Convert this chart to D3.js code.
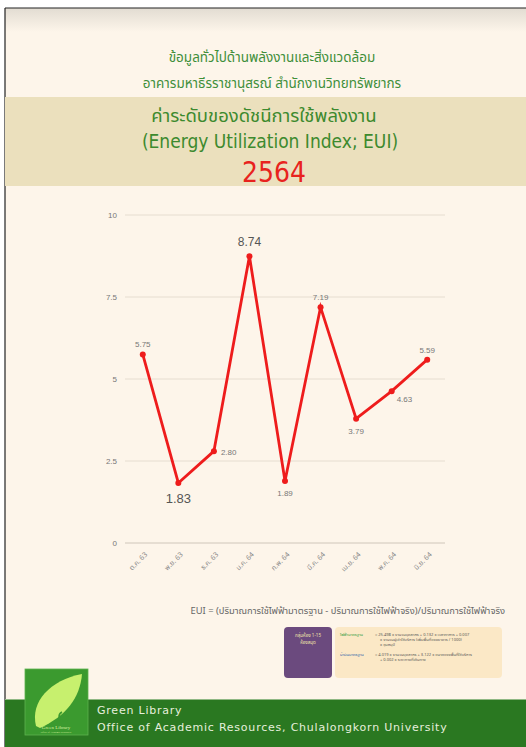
<!DOCTYPE html>
<html><head><meta charset="utf-8">
<script src="https://cdn.jsdelivr.net/npm/d3@7"></script>
<style>html,body{margin:0;padding:0;background:#fff;}svg{display:block;}</style>
</head><body>
<script>
const months = ["ต.ค. 63","พ.ย. 63","ธ.ค. 63","ม.ค. 64","ก.พ. 64","มี.ค. 64","เม.ย. 64","พ.ค. 64","มิ.ย. 64"];
const eui = [5.75, 1.83, 2.80, 8.74, 1.89, 7.19, 3.79, 4.63, 5.59];
const valueLabels = ["5.75","1.83","2.80","8.74","1.89","7.19","3.79","4.63","5.59"];
const yTicks = [0, 2.5, 5, 7.5, 10];
const yTickLabels = ["0","2.5","5","7.5","10"];
const labelPos = ["above","below","right","above","below","above","below","belowright","above"];
const labelBig = [false,true,false,true,false,false,false,false,false];

const W = 526, H = 747;
const svg = d3.select("body").append("svg").attr("width", W).attr("height", H);
const defs = svg.append("defs");
const g1 = defs.append("linearGradient").attr("id","topg").attr("x1",0).attr("y1",0).attr("x2",0).attr("y2",1);
g1.append("stop").attr("offset","0%").attr("stop-color","#e2dcd2");
g1.append("stop").attr("offset","100%").attr("stop-color","#fdf5ea");

// page
svg.append("rect").attr("x",5).attr("y",8).attr("width",W-5).attr("height",H-8).attr("fill","#fdf5ea");
svg.append("rect").attr("x",5).attr("y",8).attr("width",W-5).attr("height",24).attr("fill","url(#topg)");
svg.append("line").attr("x1",5).attr("x2",5).attr("y1",8).attr("y2",H).attr("stroke","#222").attr("stroke-width",1.2);
svg.append("line").attr("x1",5).attr("x2",W).attr("y1",8).attr("y2",8).attr("stroke","#222").attr("stroke-width",1.2);

const thaiFont = "'Noto Sans Thai','Noto Sans','DejaVu Sans',sans-serif";
svg.append("text").attr("x",272).attr("y",62).attr("text-anchor","middle")
  .attr("font-family",thaiFont).attr("font-size",13.5).attr("fill","#3f8f3a")
  .text("ข้อมูลทั่วไปด้านพลังงานและสิ่งแวดล้อม");
svg.append("text").attr("x",272).attr("y",88).attr("text-anchor","middle")
  .attr("font-family",thaiFont).attr("font-size",13.5).attr("fill","#3f8f3a")
  .text("อาคารมหาธีรราชานุสรณ์ สำนักงานวิทยทรัพยากร");
svg.append("rect").attr("x",5).attr("y",97).attr("width",W-5).attr("height",89).attr("fill","#ebe0bd");
svg.append("text").attr("x",264).attr("y",122).attr("text-anchor","middle")
  .attr("font-family",thaiFont).attr("font-size",18.5).attr("fill","#3d8a2e")
  .text("ค่าระดับของดัชนีการใช้พลังงาน");
svg.append("text").attr("x",270).attr("y",148).attr("text-anchor","middle")
  .attr("font-family","'Liberation Sans Narrow','DejaVu Sans Condensed',sans-serif").attr("font-size",19).attr("fill","#3d8a2e")
  .text("(Energy Utilization Index; EUI)");
svg.append("text").attr("x",274).attr("y",182).attr("text-anchor","middle")
  .attr("font-family","'Liberation Sans Narrow','DejaVu Sans Condensed',sans-serif").attr("font-size",29)
  .attr("fill","#e8231e").attr("textLength",64).attr("lengthAdjust","spacingAndGlyphs")
  .text("2564");

// chart
const x = d3.scaleBand().domain(months).range([125, 445]);
const y = d3.scaleLinear().domain([0, 10]).range([543, 215]);

const yAxis = d3.axisLeft(y).tickValues(yTicks).tickFormat((d,i)=>yTickLabels[i]).tickSize(0).tickPadding(8);
const ya = svg.append("g").attr("transform","translate(125,0)").call(yAxis);
ya.select(".domain").remove();
ya.selectAll("text").attr("font-family","'Liberation Sans',Arial,sans-serif").attr("font-size",8).attr("fill","#777");
svg.append("g").selectAll("line").data(yTicks).join("line")
  .attr("x1",125).attr("x2",445).attr("y1",d=>y(d)).attr("y2",d=>y(d))
  .attr("stroke",d=>d===0?"#cfc6ba":"#e6ddd0").attr("stroke-width",1);

const xAxis = d3.axisBottom(x).tickSize(0).tickPadding(0);
const xa = svg.append("g").attr("transform","translate(0,543)").call(xAxis);
xa.select(".domain").remove();
xa.selectAll("text")
  .attr("font-family",thaiFont).attr("font-size",7).attr("fill","#888")
  .attr("text-anchor","end").attr("dy",0)
  .attr("transform","translate(5,12) rotate(-45)");

const cxp = (d,i)=> x(months[i]) + x.bandwidth()/2;
const line = d3.line().x((d,i)=>cxp(d,i)).y(d=>y(d));
svg.append("path").datum(eui).attr("d",line).attr("fill","none")
  .attr("stroke","#ee1c1c").attr("stroke-width",2.8).attr("stroke-linejoin","miter");
svg.append("g").selectAll("circle").data(eui).join("circle")
  .attr("cx",cxp).attr("cy",d=>y(d)).attr("r",3).attr("fill","#ee1c1c");

svg.append("g").selectAll("text").data(eui).join("text")
  .attr("font-family","'Liberation Sans',Arial,sans-serif")
  .attr("font-size",(d,i)=>labelBig[i]?(i===1?13:12):8)
  .attr("fill",(d,i)=>labelBig[i]?"#555":"#777")
  .attr("text-anchor",(d,i)=>labelPos[i]==="right"||labelPos[i]==="belowright"?"start":"middle")
  .attr("x",(d,i)=>{const p=labelPos[i]; return cxp(d,i)+(p==="right"?7:p==="belowright"?5:0);})
  .attr("y",(d,i)=>{const p=labelPos[i]; const yy=y(d);
     if(p==="above") return yy-(labelBig[i]?10:7);
     if(p==="below") return yy+(labelBig[i]?20:15);
     if(p==="right") return yy+4;
     return yy+11;})
  .text((d,i)=>valueLabels[i]);

// formula
svg.append("text").attr("x",505).attr("y",614).attr("text-anchor","end")
  .attr("font-family",thaiFont).attr("font-size",9.4).attr("fill","#666")
  .text("EUI = (ปริมาณการใช้ไฟฟ้ามาตรฐาน - ปริมาณการใช้ไฟฟ้าจริง)/ปริมาณการใช้ไฟฟ้าจริง");

svg.append("rect").attr("x",284).attr("y",627).attr("width",48).attr("height",51).attr("rx",4).attr("fill","#6b4a7e");
svg.append("text").attr("x",308).attr("y",637).attr("text-anchor","middle").attr("font-family",thaiFont).attr("font-size",4.5).attr("fill","#f3e6a8").text("กลุ่มห้อง 1-15");
svg.append("text").attr("x",308).attr("y",644).attr("text-anchor","middle").attr("font-family",thaiFont).attr("font-size",4.5).attr("fill","#f3e6a8").text("ห้องสมุด");
svg.append("rect").attr("x",335).attr("y",627).attr("width",167).attr("height",51).attr("rx",4).attr("fill","#fbe8c6");
const small = [
  {t:"ไฟฟ้ามาตรฐาน", c:"#2e9a3a", x:340, y:636},
  {t:"= 25.498 x จำนวนบุคลากร + 0.132 x เวลาทำการ + 0.007", c:"#555", x:375, y:636},
  {t:"x จำนวนผู้เข้าใช้บริการ (เพิ่มพื้นที่ของอาคาร / 1000)", c:"#555", x:380, y:641},
  {t:"x ชุมสมุบี", c:"#555", x:380, y:646},
  {t:"น้ำมันมาตรฐาน", c:"#2e5fa8", x:340, y:656},
  {t:"= 4.019 x จำนวนบุคลากร + 3.122 x ขนาดของพื้นที่ใช้บริการ", c:"#555", x:375, y:656},
  {t:"+ 0.002 x ระยะทางที่เดินทาง", c:"#555", x:380, y:661}
];
svg.append("g").selectAll("text").data(small).join("text")
  .attr("x",d=>d.x).attr("y",d=>d.y).attr("font-family",thaiFont).attr("font-size",4).attr("fill",d=>d.c).text(d=>d.t);

// footer
svg.append("rect").attr("x",5).attr("y",699).attr("width",W-5).attr("height",H-699).attr("fill","#2a7821");
svg.append("line").attr("x1",5).attr("x2",W).attr("y1",699.5).attr("y2",699.5).attr("stroke","#8fb884").attr("stroke-width",1);
svg.append("rect").attr("x",25).attr("y",669).attr("width",63).attr("height",66).attr("fill","#3b9a2f").attr("stroke","#5db24f").attr("stroke-width",0.8);
svg.append("path").attr("d","M36,726 C30,702 50,680 82,674 C80,698 66,716 40,728 Z").attr("fill","#c7f06e");
svg.append("path").attr("d","M62,712 c-4,2 -4,8 1,9 c5,1 6,-5 2,-6").attr("fill","none").attr("stroke","#3b9a2f").attr("stroke-width",1.6);
svg.append("text").attr("x",56).attr("y",729).attr("text-anchor","middle").attr("font-family","'Liberation Serif',serif").attr("font-size",5).attr("fill","#d8f0a0").text("Green Library");
svg.append("text").attr("x",56).attr("y",733).attr("text-anchor","middle").attr("font-family","'Liberation Serif',serif").attr("font-size",2.5).attr("fill","#d8f0a0").text("Office of Academic Resources");
svg.append("text").attr("x",97).attr("y",714).attr("font-family","'DejaVu Sans',sans-serif").attr("font-size",11).attr("letter-spacing",0.78).attr("fill","#e6efdc").text("Green Library");
svg.append("text").attr("x",97).attr("y",731).attr("font-family","'DejaVu Sans',sans-serif").attr("font-size",11).attr("letter-spacing",0.78).attr("fill","#e6efdc").text("Office of Academic Resources, Chulalongkorn University");
</script>
</body></html>
